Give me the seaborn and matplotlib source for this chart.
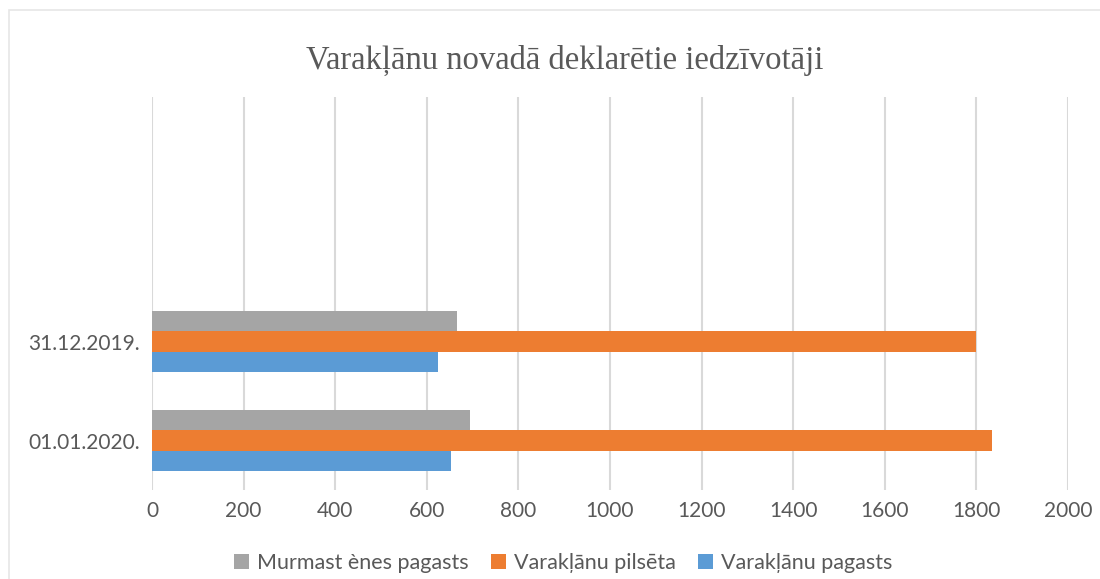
import pandas as pd
import matplotlib
matplotlib.use("Agg")
import matplotlib.pyplot as plt
import seaborn as sns
from matplotlib.patches import Rectangle

text_color = '#595959'
grid_color = '#D9D9D9'

dates = ['31.12.2019.', '01.01.2020.']
series_names = ['Murmast ènes pagasts', 'Varakļānu pilsēta', 'Varakļānu pagasts']
murmastienes = [665, 694]
pilseta = [1800, 1835]
pagasts = [624, 652]
x_ticks = [0, 200, 400, 600, 800, 1000, 1200, 1400, 1600, 1800, 2000]

colors = ['#A5A5A5', '#ED7D31', '#5B9BD5']

rows = []
for name, vals in zip(series_names, [murmastienes, pilseta, pagasts]):
    for d, v in zip(dates, vals):
        rows.append({'Datums': d, 'Teritorija': name, 'Iedzīvotāji': v})
data = pd.DataFrame(rows)

sns.set_style('white')
plt.rcParams['font.family'] = ['Lato', 'DejaVu Sans']

fig = plt.figure(figsize=(11, 5.79), dpi=100)
ax = fig.add_axes([152 / 1100, 1 - 490 / 579, (1068 - 152) / 1100, (490 - 97) / 579])

sns.barplot(data=data, y='Datums', x='Iedzīvotāji', hue='Teritorija', order=dates,
            hue_order=series_names, palette=colors, orient='h', width=0.62,
            linewidth=0, saturation=1, ax=ax, legend=True)

ax.set_xlim(0, 2000)
ax.set_ylim(1.5, -2.47)
ax.set_xticks(x_ticks)
ax.set_xlabel('')
ax.set_ylabel('')
ax.grid(axis='x', color=grid_color, linewidth=1.5)
ax.set_axisbelow(True)
for spine in ax.spines.values():
    spine.set_visible(False)
ax.tick_params(axis='both', length=0, labelcolor=text_color, labelsize=15, pad=8)
ax.tick_params(axis='y', pad=8.5)

fig.text(0.513, 1 - 60 / 579, 'Varakļānu novadā deklarētie iedzīvotāji', ha='center', va='center',
         fontsize=23.5, color=text_color, family=['Liberation Serif', 'DejaVu Serif'])

handles, labels = ax.get_legend_handles_labels()
ax.legend_.remove()
fig.legend(handles, labels, loc='center', bbox_to_anchor=(0.512, 1 - 563 / 579), ncol=3,
           frameon=False, fontsize=15.5, labelcolor=text_color, handlelength=0.7,
           handleheight=0.7, handletextpad=0.4, columnspacing=1.0)

fig.patches.append(Rectangle((9 / 1100, -0.1), 1.2, 1 - 10 / 579 + 0.1, transform=fig.transFigure,
                             fill=False, edgecolor='#E6E6E6', linewidth=1.2))

fig.savefig('out.png', dpi=100)
